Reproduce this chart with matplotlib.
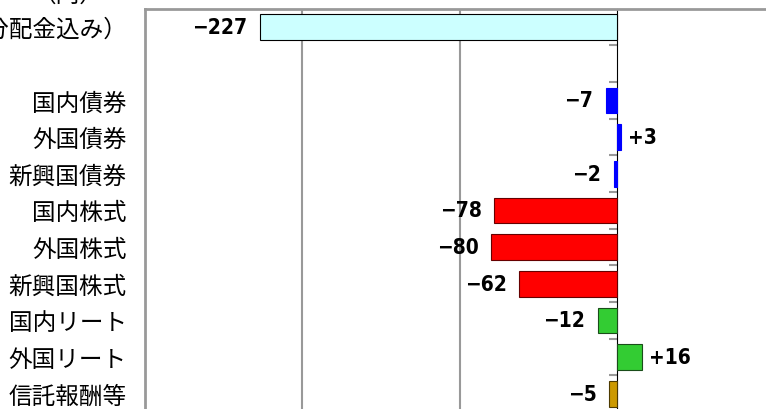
import matplotlib.pyplot as plt
import numpy as np

plt.rcParams['font.family'] = ['Noto Sans CJK JP', 'DejaVu Sans']

categories = ['基準価額（分配金込み）', '', '国内債券', '外国債券', '新興国債券',
              '国内株式', '外国株式', '新興国株式', '国内リート', '外国リート', '信託報酬等']
values = [-227, np.nan, -7, 3, -2, -78, -80, -62, -12, 16, -5]
colors = ['#CCFFFF', 'none', '#0000FF', '#0000FF', '#0000FF',
          '#FF0000', '#FF0000', '#FF0000', '#33CC33', '#33CC33', '#CC9900']
edges = ['black', 'none', '#0000FF', '#0000FF', '#0000FF',
         '#660000', '#660000', '#660000', '#1A4D1A', '#1A4D1A', '#4D3A00']

fig = plt.figure(figsize=(7.66, 4.10), dpi=100)
ax = fig.add_axes([145 / 766, -3 / 410, 629 / 766, 403.3 / 410])

pos = np.arange(len(categories))
ax.barh(pos, values, height=0.7, color=colors, edgecolor=edges, linewidth=0.8, zorder=3)

ax.set_xlim(-300, 100)
ax.set_ylim(len(categories) - 0.5, -0.5)

for x in (-200, -100):
    ax.axvline(x, color='#999999', lw=1.5, zorder=1)

# zero axis with tick marks between categories
sec = ax.secondary_yaxis(0.75)
sec.spines['left'].set_color('#999999')
sec.spines['left'].set_linewidth(2)
sec.set_yticks(np.arange(0.5, len(categories) - 0.5, 1))
sec.set_yticklabels([])
sec.tick_params(axis='y', direction='in', length=6, width=1.5, color='#999999')

ax.set_yticks(pos)
ax.set_yticklabels(categories, fontsize=17)
ax.tick_params(axis='y', length=0, pad=13)
ax.set_xticks([])
for s in ('left', 'top'):
    ax.spines[s].set_color('#999999')
    ax.spines[s].set_linewidth(2)
ax.spines['right'].set_visible(False)
ax.spines['bottom'].set_visible(False)

for p, v in zip(pos, values):
    if np.isnan(v):
        continue
    txt = f'+{v:d}' if v > 0 else f'\u2212{abs(v):d}'
    off = 5 if v > 0 else -9
    ax.annotate(txt, (v, p), xytext=(off, 0), textcoords='offset points',
                ha='left' if v > 0 else 'right', va='center',
                fontsize=15, fontweight='bold', fontstretch='condensed',
                family=['DejaVu Sans'])

fig.text(68 / 766, 403 / 410, '（円）', ha='center', va='bottom', fontsize=17)

fig.savefig('out.png', dpi=100)
